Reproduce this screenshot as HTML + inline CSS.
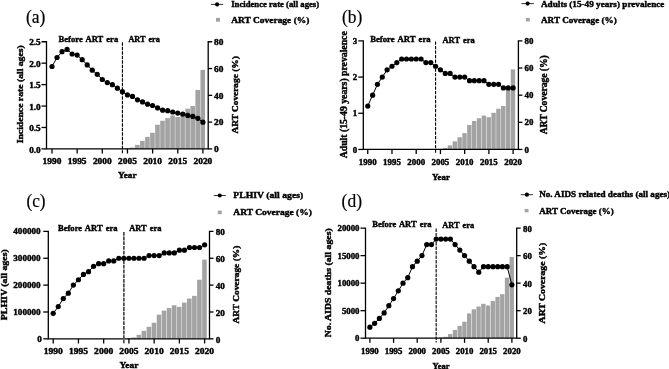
<!DOCTYPE html>
<html><head><meta charset="utf-8"><title>chart</title>
<style>
html,body{margin:0;padding:0;background:#fff;}
body{width:669px;height:369px;overflow:hidden;}
svg{display:block;filter:blur(0.45px);}
.t{font-family:"Liberation Serif", serif;font-weight:bold;fill:#000;stroke:#000;stroke-width:0.4px;}
.pl{font-family:"Liberation Serif", serif;fill:#000;stroke:#000;stroke-width:0.2px;}
</style></head><body>
<svg width="669" height="369" viewBox="0 0 669 369">
<rect width="669" height="369" fill="#fff"/>
<g id="pa">
<rect x="125.00" y="148.36" width="4.6" height="0.54" fill="#a3a3a3"/>
<rect x="130.03" y="147.56" width="4.6" height="1.34" fill="#a3a3a3"/>
<rect x="135.06" y="144.88" width="4.6" height="4.02" fill="#a3a3a3"/>
<rect x="140.09" y="140.86" width="4.6" height="8.04" fill="#a3a3a3"/>
<rect x="145.12" y="136.85" width="4.6" height="12.05" fill="#a3a3a3"/>
<rect x="150.15" y="132.83" width="4.6" height="16.07" fill="#a3a3a3"/>
<rect x="155.18" y="124.79" width="4.6" height="24.11" fill="#a3a3a3"/>
<rect x="160.21" y="120.77" width="4.6" height="28.13" fill="#a3a3a3"/>
<rect x="165.24" y="118.09" width="4.6" height="30.81" fill="#a3a3a3"/>
<rect x="170.27" y="115.42" width="4.6" height="33.48" fill="#a3a3a3"/>
<rect x="175.30" y="117.02" width="4.6" height="31.88" fill="#a3a3a3"/>
<rect x="180.33" y="112.74" width="4.6" height="36.16" fill="#a3a3a3"/>
<rect x="185.36" y="108.72" width="4.6" height="40.18" fill="#a3a3a3"/>
<rect x="190.39" y="106.04" width="4.6" height="42.86" fill="#a3a3a3"/>
<rect x="195.42" y="89.97" width="4.6" height="58.93" fill="#a3a3a3"/>
<rect x="200.45" y="69.88" width="4.6" height="79.02" fill="#a3a3a3"/>
<path d="M41.5 41.75H46.5V148.9H208.2V41.75H212.2" fill="none" stroke="#000" stroke-width="1.3" stroke-linecap="butt" stroke-linejoin="miter"/>
<path d="M41.5 148.90H46.5" stroke="#000" stroke-width="1.3"/>
<text x="29.18" y="152.60" font-size="8.5" class="t" textLength="11.52" lengthAdjust="spacingAndGlyphs">0.0</text>
<path d="M41.5 127.47H46.5" stroke="#000" stroke-width="1.3"/>
<text x="29.18" y="131.17" font-size="8.5" class="t" textLength="11.52" lengthAdjust="spacingAndGlyphs">0.5</text>
<path d="M41.5 106.04H46.5" stroke="#000" stroke-width="1.3"/>
<text x="29.18" y="109.74" font-size="8.5" class="t" textLength="11.52" lengthAdjust="spacingAndGlyphs">1.0</text>
<path d="M41.5 84.61H46.5" stroke="#000" stroke-width="1.3"/>
<text x="29.18" y="88.31" font-size="8.5" class="t" textLength="11.52" lengthAdjust="spacingAndGlyphs">1.5</text>
<path d="M41.5 63.18H46.5" stroke="#000" stroke-width="1.3"/>
<text x="29.18" y="66.88" font-size="8.5" class="t" textLength="11.52" lengthAdjust="spacingAndGlyphs">2.0</text>
<text x="29.18" y="45.45" font-size="8.5" class="t" textLength="11.52" lengthAdjust="spacingAndGlyphs">2.5</text>
<path d="M208.2 148.90H212.2" stroke="#000" stroke-width="1.3"/>
<text x="214.00" y="152.20" font-size="8.5" class="t" textLength="4.70" lengthAdjust="spacingAndGlyphs">0</text>
<path d="M208.2 122.11H212.2" stroke="#000" stroke-width="1.3"/>
<text x="214.00" y="125.41" font-size="8.5" class="t" textLength="9.40" lengthAdjust="spacingAndGlyphs">20</text>
<path d="M208.2 95.33H212.2" stroke="#000" stroke-width="1.3"/>
<text x="214.00" y="98.62" font-size="8.5" class="t" textLength="9.40" lengthAdjust="spacingAndGlyphs">40</text>
<path d="M208.2 68.54H212.2" stroke="#000" stroke-width="1.3"/>
<text x="214.00" y="71.84" font-size="8.5" class="t" textLength="9.40" lengthAdjust="spacingAndGlyphs">60</text>
<text x="214.00" y="45.05" font-size="8.5" class="t" textLength="9.40" lengthAdjust="spacingAndGlyphs">80</text>
<path d="M52.00 148.9V153.5" stroke="#000" stroke-width="1.3"/>
<text x="42.60" y="164.15" font-size="8.5" class="t" textLength="18.80" lengthAdjust="spacingAndGlyphs">1990</text>
<path d="M77.15 148.9V153.5" stroke="#000" stroke-width="1.3"/>
<text x="67.75" y="164.15" font-size="8.5" class="t" textLength="18.80" lengthAdjust="spacingAndGlyphs">1995</text>
<path d="M102.30 148.9V153.5" stroke="#000" stroke-width="1.3"/>
<text x="92.90" y="164.15" font-size="8.5" class="t" textLength="18.80" lengthAdjust="spacingAndGlyphs">2000</text>
<path d="M127.45 148.9V153.5" stroke="#000" stroke-width="1.3"/>
<text x="118.05" y="164.15" font-size="8.5" class="t" textLength="18.80" lengthAdjust="spacingAndGlyphs">2005</text>
<path d="M152.60 148.9V153.5" stroke="#000" stroke-width="1.3"/>
<text x="143.20" y="164.15" font-size="8.5" class="t" textLength="18.80" lengthAdjust="spacingAndGlyphs">2010</text>
<path d="M177.75 148.9V153.5" stroke="#000" stroke-width="1.3"/>
<text x="168.35" y="164.15" font-size="8.5" class="t" textLength="18.80" lengthAdjust="spacingAndGlyphs">2015</text>
<path d="M202.90 148.9V153.5" stroke="#000" stroke-width="1.3"/>
<text x="193.50" y="164.15" font-size="8.5" class="t" textLength="18.80" lengthAdjust="spacingAndGlyphs">2020</text>
<path d="M122.42 42.25V153.3" stroke="#000" stroke-width="1.1" stroke-dasharray="3.4 1.1"/>
<polyline fill="none" stroke="#000" stroke-width="1.0" points="52.00,66.50 57.03,57.50 62.06,51.70 67.09,49.40 72.12,54.00 77.15,55.10 82.18,59.70 87.21,64.90 92.24,70.20 97.27,74.30 102.30,79.50 107.33,82.60 112.36,84.70 117.39,88.20 122.42,91.70 127.45,94.90 132.48,96.40 137.51,99.80 142.54,101.90 147.57,104.20 152.60,105.50 157.63,107.90 162.66,110.20 167.69,110.70 172.72,112.00 177.75,113.10 182.78,114.10 187.81,115.40 192.84,116.40 197.87,118.30 202.90,122.20"/>
<circle cx="52.00" cy="66.50" r="2.6" fill="#000"/>
<circle cx="57.03" cy="57.50" r="2.6" fill="#000"/>
<circle cx="62.06" cy="51.70" r="2.6" fill="#000"/>
<circle cx="67.09" cy="49.40" r="2.6" fill="#000"/>
<circle cx="72.12" cy="54.00" r="2.6" fill="#000"/>
<circle cx="77.15" cy="55.10" r="2.6" fill="#000"/>
<circle cx="82.18" cy="59.70" r="2.6" fill="#000"/>
<circle cx="87.21" cy="64.90" r="2.6" fill="#000"/>
<circle cx="92.24" cy="70.20" r="2.6" fill="#000"/>
<circle cx="97.27" cy="74.30" r="2.6" fill="#000"/>
<circle cx="102.30" cy="79.50" r="2.6" fill="#000"/>
<circle cx="107.33" cy="82.60" r="2.6" fill="#000"/>
<circle cx="112.36" cy="84.70" r="2.6" fill="#000"/>
<circle cx="117.39" cy="88.20" r="2.6" fill="#000"/>
<circle cx="122.42" cy="91.70" r="2.6" fill="#000"/>
<circle cx="127.45" cy="94.90" r="2.6" fill="#000"/>
<circle cx="132.48" cy="96.40" r="2.6" fill="#000"/>
<circle cx="137.51" cy="99.80" r="2.6" fill="#000"/>
<circle cx="142.54" cy="101.90" r="2.6" fill="#000"/>
<circle cx="147.57" cy="104.20" r="2.6" fill="#000"/>
<circle cx="152.60" cy="105.50" r="2.6" fill="#000"/>
<circle cx="157.63" cy="107.90" r="2.6" fill="#000"/>
<circle cx="162.66" cy="110.20" r="2.6" fill="#000"/>
<circle cx="167.69" cy="110.70" r="2.6" fill="#000"/>
<circle cx="172.72" cy="112.00" r="2.6" fill="#000"/>
<circle cx="177.75" cy="113.10" r="2.6" fill="#000"/>
<circle cx="182.78" cy="114.10" r="2.6" fill="#000"/>
<circle cx="187.81" cy="115.40" r="2.6" fill="#000"/>
<circle cx="192.84" cy="116.40" r="2.6" fill="#000"/>
<circle cx="197.87" cy="118.30" r="2.6" fill="#000"/>
<circle cx="202.90" cy="122.20" r="2.6" fill="#000"/>
<text x="58.60" y="42.30" font-size="8.9" class="t" textLength="59.60" lengthAdjust="spacingAndGlyphs" word-spacing="1.1">Before ART era</text>
<text x="128.40" y="42.30" font-size="8.9" class="t" textLength="31.40" lengthAdjust="spacingAndGlyphs" word-spacing="1.1">ART era</text>
<text x="118.10" y="178.25" font-size="9.0" class="t" textLength="18.50" lengthAdjust="spacingAndGlyphs">Year</text>
<text transform="translate(22.80 143.30) rotate(-90)" font-size="9.2" class="t" textLength="98.00" lengthAdjust="spacingAndGlyphs">Incidence rate (all ages)</text>
<text transform="translate(238.10 133.55) rotate(-90)" font-size="9.1" class="t" textLength="77.30" lengthAdjust="spacingAndGlyphs">ART Coverage (%)</text>
<text x="26.0" y="22.8" font-size="19" class="pl" textLength="19.4" lengthAdjust="spacingAndGlyphs">(a)</text>
<path d="M211 4.4H223.2" stroke="#000" stroke-width="0.8"/>
<circle cx="217.10" cy="4.4" r="2.1" fill="#000"/>
<text x="231.20" y="6.90" font-size="8.9" class="t" textLength="87.90" lengthAdjust="spacingAndGlyphs">Incidence rate (all ages)</text>
<rect x="216" y="17.9" width="4" height="3.8" fill="#a3a3a3"/>
<text x="231.20" y="23.40" font-size="8.9" class="t" textLength="78.20" lengthAdjust="spacingAndGlyphs">ART Coverage (%)</text>
</g>
<g id="pb">
<rect x="438.08" y="148.91" width="4.4" height="0.54" fill="#a3a3a3"/>
<rect x="442.92" y="148.09" width="4.4" height="1.36" fill="#a3a3a3"/>
<rect x="447.77" y="145.38" width="4.4" height="4.07" fill="#a3a3a3"/>
<rect x="452.61" y="141.31" width="4.4" height="8.14" fill="#a3a3a3"/>
<rect x="457.46" y="137.24" width="4.4" height="12.21" fill="#a3a3a3"/>
<rect x="462.30" y="133.17" width="4.4" height="16.28" fill="#a3a3a3"/>
<rect x="467.15" y="125.03" width="4.4" height="24.42" fill="#a3a3a3"/>
<rect x="471.99" y="120.96" width="4.4" height="28.49" fill="#a3a3a3"/>
<rect x="476.84" y="118.24" width="4.4" height="31.21" fill="#a3a3a3"/>
<rect x="481.68" y="115.53" width="4.4" height="33.92" fill="#a3a3a3"/>
<rect x="486.53" y="117.16" width="4.4" height="32.29" fill="#a3a3a3"/>
<rect x="491.37" y="112.81" width="4.4" height="36.64" fill="#a3a3a3"/>
<rect x="496.22" y="108.74" width="4.4" height="40.71" fill="#a3a3a3"/>
<rect x="501.06" y="106.03" width="4.4" height="43.42" fill="#a3a3a3"/>
<rect x="505.91" y="89.75" width="4.4" height="59.70" fill="#a3a3a3"/>
<rect x="510.75" y="69.39" width="4.4" height="80.06" fill="#a3a3a3"/>
<path d="M358.3 40.9H363.3V149.45H518.4V40.9H522.4" fill="none" stroke="#000" stroke-width="1.3" stroke-linecap="butt" stroke-linejoin="miter"/>
<path d="M358.3 149.45H363.3" stroke="#000" stroke-width="1.3"/>
<text x="352.65" y="152.55" font-size="8.5" class="t" textLength="4.45" lengthAdjust="spacingAndGlyphs">0</text>
<path d="M358.3 113.27H363.3" stroke="#000" stroke-width="1.3"/>
<text x="352.65" y="116.37" font-size="8.5" class="t" textLength="4.45" lengthAdjust="spacingAndGlyphs">1</text>
<path d="M358.3 77.08H363.3" stroke="#000" stroke-width="1.3"/>
<text x="352.65" y="80.18" font-size="8.5" class="t" textLength="4.45" lengthAdjust="spacingAndGlyphs">2</text>
<text x="352.65" y="44.00" font-size="8.5" class="t" textLength="4.45" lengthAdjust="spacingAndGlyphs">3</text>
<path d="M518.4 149.45H522.4" stroke="#000" stroke-width="1.3"/>
<text x="524.50" y="152.55" font-size="8.5" class="t" textLength="4.45" lengthAdjust="spacingAndGlyphs">0</text>
<path d="M518.4 122.31H522.4" stroke="#000" stroke-width="1.3"/>
<text x="524.50" y="125.41" font-size="8.5" class="t" textLength="8.90" lengthAdjust="spacingAndGlyphs">20</text>
<path d="M518.4 95.17H522.4" stroke="#000" stroke-width="1.3"/>
<text x="524.50" y="98.27" font-size="8.5" class="t" textLength="8.90" lengthAdjust="spacingAndGlyphs">40</text>
<path d="M518.4 68.04H522.4" stroke="#000" stroke-width="1.3"/>
<text x="524.50" y="71.14" font-size="8.5" class="t" textLength="8.90" lengthAdjust="spacingAndGlyphs">60</text>
<text x="524.50" y="44.00" font-size="8.5" class="t" textLength="8.90" lengthAdjust="spacingAndGlyphs">80</text>
<path d="M367.75 149.45V154.04999999999998" stroke="#000" stroke-width="1.3"/>
<text x="358.85" y="164.80" font-size="8.5" class="t" textLength="17.80" lengthAdjust="spacingAndGlyphs">1990</text>
<path d="M391.98 149.45V154.04999999999998" stroke="#000" stroke-width="1.3"/>
<text x="383.08" y="164.80" font-size="8.5" class="t" textLength="17.80" lengthAdjust="spacingAndGlyphs">1995</text>
<path d="M416.20 149.45V154.04999999999998" stroke="#000" stroke-width="1.3"/>
<text x="407.30" y="164.80" font-size="8.5" class="t" textLength="17.80" lengthAdjust="spacingAndGlyphs">2000</text>
<path d="M440.43 149.45V154.04999999999998" stroke="#000" stroke-width="1.3"/>
<text x="431.53" y="164.80" font-size="8.5" class="t" textLength="17.80" lengthAdjust="spacingAndGlyphs">2005</text>
<path d="M464.65 149.45V154.04999999999998" stroke="#000" stroke-width="1.3"/>
<text x="455.75" y="164.80" font-size="8.5" class="t" textLength="17.80" lengthAdjust="spacingAndGlyphs">2010</text>
<path d="M488.88 149.45V154.04999999999998" stroke="#000" stroke-width="1.3"/>
<text x="479.98" y="164.80" font-size="8.5" class="t" textLength="17.80" lengthAdjust="spacingAndGlyphs">2015</text>
<path d="M513.10 149.45V154.04999999999998" stroke="#000" stroke-width="1.3"/>
<text x="504.20" y="164.80" font-size="8.5" class="t" textLength="17.80" lengthAdjust="spacingAndGlyphs">2020</text>
<path d="M435.58 41.4V153.85" stroke="#000" stroke-width="1.1" stroke-dasharray="3.4 1.1"/>
<polyline fill="none" stroke="#000" stroke-width="1.0" points="367.75,106.03 372.60,95.17 377.44,84.32 382.29,77.08 387.13,69.85 391.98,66.23 396.82,62.61 401.67,58.99 406.51,58.99 411.36,58.99 416.20,58.99 421.05,58.99 425.89,62.61 430.74,62.61 435.58,66.23 440.43,69.85 445.27,73.46 450.12,73.46 454.96,77.08 459.81,77.08 464.65,77.08 469.50,80.70 474.34,80.70 479.19,80.70 484.03,80.70 488.88,84.32 493.72,84.32 498.56,84.32 503.41,87.94 508.25,87.94 513.10,87.94"/>
<circle cx="367.75" cy="106.03" r="2.6" fill="#000"/>
<circle cx="372.60" cy="95.17" r="2.6" fill="#000"/>
<circle cx="377.44" cy="84.32" r="2.6" fill="#000"/>
<circle cx="382.29" cy="77.08" r="2.6" fill="#000"/>
<circle cx="387.13" cy="69.85" r="2.6" fill="#000"/>
<circle cx="391.98" cy="66.23" r="2.6" fill="#000"/>
<circle cx="396.82" cy="62.61" r="2.6" fill="#000"/>
<circle cx="401.67" cy="58.99" r="2.6" fill="#000"/>
<circle cx="406.51" cy="58.99" r="2.6" fill="#000"/>
<circle cx="411.36" cy="58.99" r="2.6" fill="#000"/>
<circle cx="416.20" cy="58.99" r="2.6" fill="#000"/>
<circle cx="421.05" cy="58.99" r="2.6" fill="#000"/>
<circle cx="425.89" cy="62.61" r="2.6" fill="#000"/>
<circle cx="430.74" cy="62.61" r="2.6" fill="#000"/>
<circle cx="435.58" cy="66.23" r="2.6" fill="#000"/>
<circle cx="440.43" cy="69.85" r="2.6" fill="#000"/>
<circle cx="445.27" cy="73.46" r="2.6" fill="#000"/>
<circle cx="450.12" cy="73.46" r="2.6" fill="#000"/>
<circle cx="454.96" cy="77.08" r="2.6" fill="#000"/>
<circle cx="459.81" cy="77.08" r="2.6" fill="#000"/>
<circle cx="464.65" cy="77.08" r="2.6" fill="#000"/>
<circle cx="469.50" cy="80.70" r="2.6" fill="#000"/>
<circle cx="474.34" cy="80.70" r="2.6" fill="#000"/>
<circle cx="479.19" cy="80.70" r="2.6" fill="#000"/>
<circle cx="484.03" cy="80.70" r="2.6" fill="#000"/>
<circle cx="488.88" cy="84.32" r="2.6" fill="#000"/>
<circle cx="493.72" cy="84.32" r="2.6" fill="#000"/>
<circle cx="498.56" cy="84.32" r="2.6" fill="#000"/>
<circle cx="503.41" cy="87.94" r="2.6" fill="#000"/>
<circle cx="508.25" cy="87.94" r="2.6" fill="#000"/>
<circle cx="513.10" cy="87.94" r="2.6" fill="#000"/>
<text x="370.20" y="42.30" font-size="8.9" class="t" textLength="60.40" lengthAdjust="spacingAndGlyphs" word-spacing="1.1">Before ART era</text>
<text x="442.50" y="42.60" font-size="8.9" class="t" textLength="32.30" lengthAdjust="spacingAndGlyphs" word-spacing="1.1">ART era</text>
<text x="432.10" y="179.50" font-size="9.0" class="t" textLength="17.90" lengthAdjust="spacingAndGlyphs">Year</text>
<text transform="translate(346.80 158.30) rotate(-90)" font-size="9.5" class="t" textLength="127.00" lengthAdjust="spacingAndGlyphs">Adult (15-49 years) prevalence</text>
<text transform="translate(547.10 134.30) rotate(-90)" font-size="9.5" class="t" textLength="79.00" lengthAdjust="spacingAndGlyphs">ART Coverage (%)</text>
<text x="341.9" y="22.8" font-size="18.9" class="pl" textLength="20.3" lengthAdjust="spacingAndGlyphs">(b)</text>
<path d="M521.4 3.6H533.9" stroke="#000" stroke-width="0.8"/>
<circle cx="527.65" cy="3.6" r="2.1" fill="#000"/>
<text x="541.00" y="6.60" font-size="8.9" class="t" textLength="123.40" lengthAdjust="spacingAndGlyphs">Adults (15-49 years) prevalence</text>
<rect x="526" y="17.9" width="3.8" height="3.5" fill="#a3a3a3"/>
<text x="541.00" y="23.00" font-size="8.9" class="t" textLength="75.80" lengthAdjust="spacingAndGlyphs">ART Coverage (%)</text>
</g>
<g id="pc">
<rect x="126.45" y="338.31" width="4.6" height="0.54" fill="#a3a3a3"/>
<rect x="131.50" y="337.51" width="4.6" height="1.34" fill="#a3a3a3"/>
<rect x="136.55" y="334.82" width="4.6" height="4.03" fill="#a3a3a3"/>
<rect x="141.60" y="330.79" width="4.6" height="8.06" fill="#a3a3a3"/>
<rect x="146.64" y="326.76" width="4.6" height="12.09" fill="#a3a3a3"/>
<rect x="151.69" y="322.73" width="4.6" height="16.12" fill="#a3a3a3"/>
<rect x="156.74" y="314.67" width="4.6" height="24.18" fill="#a3a3a3"/>
<rect x="161.78" y="310.64" width="4.6" height="28.21" fill="#a3a3a3"/>
<rect x="166.83" y="307.96" width="4.6" height="30.89" fill="#a3a3a3"/>
<rect x="171.88" y="305.27" width="4.6" height="33.58" fill="#a3a3a3"/>
<rect x="176.92" y="306.88" width="4.6" height="31.97" fill="#a3a3a3"/>
<rect x="181.97" y="302.59" width="4.6" height="36.26" fill="#a3a3a3"/>
<rect x="187.02" y="298.56" width="4.6" height="40.29" fill="#a3a3a3"/>
<rect x="192.07" y="295.87" width="4.6" height="42.98" fill="#a3a3a3"/>
<rect x="197.11" y="279.75" width="4.6" height="59.10" fill="#a3a3a3"/>
<rect x="202.16" y="259.61" width="4.6" height="79.24" fill="#a3a3a3"/>
<path d="M43.3 231.4H48.3V338.85H209.5V231.4H213.5" fill="none" stroke="#000" stroke-width="1.3" stroke-linecap="butt" stroke-linejoin="miter"/>
<path d="M43.3 338.85H48.3" stroke="#000" stroke-width="1.3"/>
<text x="37.23" y="341.80" font-size="8.5" class="t" textLength="4.57" lengthAdjust="spacingAndGlyphs">0</text>
<path d="M43.3 311.99H48.3" stroke="#000" stroke-width="1.3"/>
<text x="13.28" y="314.94" font-size="8.5" class="t" textLength="27.42" lengthAdjust="spacingAndGlyphs">100000</text>
<path d="M43.3 285.12H48.3" stroke="#000" stroke-width="1.3"/>
<text x="13.28" y="288.07" font-size="8.5" class="t" textLength="27.42" lengthAdjust="spacingAndGlyphs">200000</text>
<path d="M43.3 258.26H48.3" stroke="#000" stroke-width="1.3"/>
<text x="13.28" y="261.21" font-size="8.5" class="t" textLength="27.42" lengthAdjust="spacingAndGlyphs">300000</text>
<text x="13.28" y="234.35" font-size="8.5" class="t" textLength="27.42" lengthAdjust="spacingAndGlyphs">400000</text>
<path d="M209.5 338.85H213.5" stroke="#000" stroke-width="1.3"/>
<text x="215.80" y="342.55" font-size="8.5" class="t" textLength="4.57" lengthAdjust="spacingAndGlyphs">0</text>
<path d="M209.5 311.99H213.5" stroke="#000" stroke-width="1.3"/>
<text x="215.80" y="315.69" font-size="8.5" class="t" textLength="9.14" lengthAdjust="spacingAndGlyphs">20</text>
<path d="M209.5 285.12H213.5" stroke="#000" stroke-width="1.3"/>
<text x="215.80" y="288.82" font-size="8.5" class="t" textLength="9.14" lengthAdjust="spacingAndGlyphs">40</text>
<path d="M209.5 258.26H213.5" stroke="#000" stroke-width="1.3"/>
<text x="215.80" y="261.96" font-size="8.5" class="t" textLength="9.14" lengthAdjust="spacingAndGlyphs">60</text>
<text x="215.80" y="235.10" font-size="8.5" class="t" textLength="9.14" lengthAdjust="spacingAndGlyphs">80</text>
<path d="M53.20 338.85V343.45000000000005" stroke="#000" stroke-width="1.3"/>
<text x="43.66" y="354.05" font-size="8.5" class="t" textLength="19.08" lengthAdjust="spacingAndGlyphs">1990</text>
<path d="M78.44 338.85V343.45000000000005" stroke="#000" stroke-width="1.3"/>
<text x="68.90" y="354.05" font-size="8.5" class="t" textLength="19.08" lengthAdjust="spacingAndGlyphs">1995</text>
<path d="M103.67 338.85V343.45000000000005" stroke="#000" stroke-width="1.3"/>
<text x="94.13" y="354.05" font-size="8.5" class="t" textLength="19.08" lengthAdjust="spacingAndGlyphs">2000</text>
<path d="M128.91 338.85V343.45000000000005" stroke="#000" stroke-width="1.3"/>
<text x="119.37" y="354.05" font-size="8.5" class="t" textLength="19.08" lengthAdjust="spacingAndGlyphs">2005</text>
<path d="M154.14 338.85V343.45000000000005" stroke="#000" stroke-width="1.3"/>
<text x="144.60" y="354.05" font-size="8.5" class="t" textLength="19.08" lengthAdjust="spacingAndGlyphs">2010</text>
<path d="M179.38 338.85V343.45000000000005" stroke="#000" stroke-width="1.3"/>
<text x="169.84" y="354.05" font-size="8.5" class="t" textLength="19.08" lengthAdjust="spacingAndGlyphs">2015</text>
<path d="M204.61 338.85V343.45000000000005" stroke="#000" stroke-width="1.3"/>
<text x="195.07" y="354.05" font-size="8.5" class="t" textLength="19.08" lengthAdjust="spacingAndGlyphs">2020</text>
<path d="M123.86 231.9V343.25" stroke="#4a4a4a" stroke-width="1.7" stroke-dasharray="3.8 0.9"/>
<polyline fill="none" stroke="#000" stroke-width="1.0" points="53.20,313.33 58.25,306.62 63.29,298.56 68.34,293.18 73.39,285.12 78.44,279.75 83.48,274.38 88.53,271.69 93.58,266.32 98.62,263.63 103.67,263.63 108.72,260.95 113.76,260.95 118.81,258.26 123.86,258.26 128.91,258.26 133.95,258.26 139.00,258.26 144.05,258.26 149.09,255.58 154.14,255.58 159.19,255.58 164.23,252.89 169.28,252.89 174.33,252.89 179.38,250.20 184.42,250.20 189.47,247.52 194.52,247.52 199.56,247.52 204.61,244.83"/>
<circle cx="53.20" cy="313.33" r="2.6" fill="#000"/>
<circle cx="58.25" cy="306.62" r="2.6" fill="#000"/>
<circle cx="63.29" cy="298.56" r="2.6" fill="#000"/>
<circle cx="68.34" cy="293.18" r="2.6" fill="#000"/>
<circle cx="73.39" cy="285.12" r="2.6" fill="#000"/>
<circle cx="78.44" cy="279.75" r="2.6" fill="#000"/>
<circle cx="83.48" cy="274.38" r="2.6" fill="#000"/>
<circle cx="88.53" cy="271.69" r="2.6" fill="#000"/>
<circle cx="93.58" cy="266.32" r="2.6" fill="#000"/>
<circle cx="98.62" cy="263.63" r="2.6" fill="#000"/>
<circle cx="103.67" cy="263.63" r="2.6" fill="#000"/>
<circle cx="108.72" cy="260.95" r="2.6" fill="#000"/>
<circle cx="113.76" cy="260.95" r="2.6" fill="#000"/>
<circle cx="118.81" cy="258.26" r="2.6" fill="#000"/>
<circle cx="123.86" cy="258.26" r="2.6" fill="#000"/>
<circle cx="128.91" cy="258.26" r="2.6" fill="#000"/>
<circle cx="133.95" cy="258.26" r="2.6" fill="#000"/>
<circle cx="139.00" cy="258.26" r="2.6" fill="#000"/>
<circle cx="144.05" cy="258.26" r="2.6" fill="#000"/>
<circle cx="149.09" cy="255.58" r="2.6" fill="#000"/>
<circle cx="154.14" cy="255.58" r="2.6" fill="#000"/>
<circle cx="159.19" cy="255.58" r="2.6" fill="#000"/>
<circle cx="164.23" cy="252.89" r="2.6" fill="#000"/>
<circle cx="169.28" cy="252.89" r="2.6" fill="#000"/>
<circle cx="174.33" cy="252.89" r="2.6" fill="#000"/>
<circle cx="179.38" cy="250.20" r="2.6" fill="#000"/>
<circle cx="184.42" cy="250.20" r="2.6" fill="#000"/>
<circle cx="189.47" cy="247.52" r="2.6" fill="#000"/>
<circle cx="194.52" cy="247.52" r="2.6" fill="#000"/>
<circle cx="199.56" cy="247.52" r="2.6" fill="#000"/>
<circle cx="204.61" cy="244.83" r="2.6" fill="#000"/>
<text x="58.00" y="230.80" font-size="8.6" class="t" textLength="59.60" lengthAdjust="spacingAndGlyphs" word-spacing="1.1">Before ART era</text>
<text x="129.20" y="230.80" font-size="8.6" class="t" textLength="32.20" lengthAdjust="spacingAndGlyphs" word-spacing="1.1">ART era</text>
<text x="119.60" y="368.10" font-size="9.0" class="t" textLength="18.90" lengthAdjust="spacingAndGlyphs">Year</text>
<text transform="translate(6.80 320.20) rotate(-90)" font-size="8.8" class="t" textLength="71.00" lengthAdjust="spacingAndGlyphs">PLHIV (all ages)</text>
<text transform="translate(239.00 323.50) rotate(-90)" font-size="9.0" class="t" textLength="77.80" lengthAdjust="spacingAndGlyphs">ART Coverage (%)</text>
<text x="26.5" y="207.4" font-size="19" class="pl" textLength="19.1" lengthAdjust="spacingAndGlyphs">(c)</text>
<path d="M213.7 195.5H225.8" stroke="#000" stroke-width="0.8"/>
<circle cx="219.75" cy="195.5" r="2.1" fill="#000"/>
<text x="233.30" y="198.40" font-size="8.9" class="t" textLength="69.90" lengthAdjust="spacingAndGlyphs">PLHIV (all ages)</text>
<rect x="217.8" y="210.6" width="4" height="3.6" fill="#a3a3a3"/>
<text x="233.30" y="215.40" font-size="8.9" class="t" textLength="78.60" lengthAdjust="spacingAndGlyphs">ART Coverage (%)</text>
</g>
<g id="pd">
<rect x="438.60" y="337.65" width="4.3" height="0.55" fill="#a3a3a3"/>
<rect x="443.33" y="336.82" width="4.3" height="1.38" fill="#a3a3a3"/>
<rect x="448.06" y="334.07" width="4.3" height="4.13" fill="#a3a3a3"/>
<rect x="452.79" y="329.94" width="4.3" height="8.26" fill="#a3a3a3"/>
<rect x="457.53" y="325.81" width="4.3" height="12.39" fill="#a3a3a3"/>
<rect x="462.26" y="321.69" width="4.3" height="16.51" fill="#a3a3a3"/>
<rect x="466.99" y="313.43" width="4.3" height="24.77" fill="#a3a3a3"/>
<rect x="471.73" y="309.30" width="4.3" height="28.90" fill="#a3a3a3"/>
<rect x="476.46" y="306.55" width="4.3" height="31.65" fill="#a3a3a3"/>
<rect x="481.19" y="303.79" width="4.3" height="34.41" fill="#a3a3a3"/>
<rect x="485.93" y="305.45" width="4.3" height="32.75" fill="#a3a3a3"/>
<rect x="490.66" y="301.04" width="4.3" height="37.16" fill="#a3a3a3"/>
<rect x="495.39" y="296.91" width="4.3" height="41.29" fill="#a3a3a3"/>
<rect x="500.12" y="294.16" width="4.3" height="44.04" fill="#a3a3a3"/>
<rect x="504.86" y="277.64" width="4.3" height="60.56" fill="#a3a3a3"/>
<rect x="509.59" y="257.00" width="4.3" height="81.20" fill="#a3a3a3"/>
<path d="M360.5 228.1H365.5V338.2H516.7V228.1H520.7" fill="none" stroke="#000" stroke-width="1.3" stroke-linecap="butt" stroke-linejoin="miter"/>
<path d="M360.5 338.20H365.5" stroke="#000" stroke-width="1.3"/>
<text x="355.10" y="341.30" font-size="8.5" class="t" textLength="4.40" lengthAdjust="spacingAndGlyphs">0</text>
<path d="M360.5 310.68H365.5" stroke="#000" stroke-width="1.3"/>
<text x="341.90" y="313.78" font-size="8.5" class="t" textLength="17.60" lengthAdjust="spacingAndGlyphs">5000</text>
<path d="M360.5 283.15H365.5" stroke="#000" stroke-width="1.3"/>
<text x="337.50" y="286.25" font-size="8.5" class="t" textLength="22.00" lengthAdjust="spacingAndGlyphs">10000</text>
<path d="M360.5 255.62H365.5" stroke="#000" stroke-width="1.3"/>
<text x="337.50" y="258.73" font-size="8.5" class="t" textLength="22.00" lengthAdjust="spacingAndGlyphs">15000</text>
<text x="337.50" y="231.20" font-size="8.5" class="t" textLength="22.00" lengthAdjust="spacingAndGlyphs">20000</text>
<path d="M516.7 338.20H520.7" stroke="#000" stroke-width="1.3"/>
<text x="523.10" y="341.70" font-size="8.5" class="t" textLength="4.40" lengthAdjust="spacingAndGlyphs">0</text>
<path d="M516.7 310.68H520.7" stroke="#000" stroke-width="1.3"/>
<text x="523.10" y="314.18" font-size="8.5" class="t" textLength="8.80" lengthAdjust="spacingAndGlyphs">20</text>
<path d="M516.7 283.15H520.7" stroke="#000" stroke-width="1.3"/>
<text x="523.10" y="286.65" font-size="8.5" class="t" textLength="8.80" lengthAdjust="spacingAndGlyphs">40</text>
<path d="M516.7 255.62H520.7" stroke="#000" stroke-width="1.3"/>
<text x="523.10" y="259.12" font-size="8.5" class="t" textLength="8.80" lengthAdjust="spacingAndGlyphs">60</text>
<text x="523.10" y="231.60" font-size="8.5" class="t" textLength="8.80" lengthAdjust="spacingAndGlyphs">80</text>
<path d="M369.90 338.2V342.8" stroke="#000" stroke-width="1.3"/>
<text x="361.10" y="353.95" font-size="8.5" class="t" textLength="17.60" lengthAdjust="spacingAndGlyphs">1990</text>
<path d="M393.56 338.2V342.8" stroke="#000" stroke-width="1.3"/>
<text x="384.76" y="353.95" font-size="8.5" class="t" textLength="17.60" lengthAdjust="spacingAndGlyphs">1995</text>
<path d="M417.23 338.2V342.8" stroke="#000" stroke-width="1.3"/>
<text x="408.43" y="353.95" font-size="8.5" class="t" textLength="17.60" lengthAdjust="spacingAndGlyphs">2000</text>
<path d="M440.89 338.2V342.8" stroke="#000" stroke-width="1.3"/>
<text x="432.09" y="353.95" font-size="8.5" class="t" textLength="17.60" lengthAdjust="spacingAndGlyphs">2005</text>
<path d="M464.56 338.2V342.8" stroke="#000" stroke-width="1.3"/>
<text x="455.76" y="353.95" font-size="8.5" class="t" textLength="17.60" lengthAdjust="spacingAndGlyphs">2010</text>
<path d="M488.22 338.2V342.8" stroke="#000" stroke-width="1.3"/>
<text x="479.42" y="353.95" font-size="8.5" class="t" textLength="17.60" lengthAdjust="spacingAndGlyphs">2015</text>
<path d="M511.89 338.2V342.8" stroke="#000" stroke-width="1.3"/>
<text x="503.09" y="353.95" font-size="8.5" class="t" textLength="17.60" lengthAdjust="spacingAndGlyphs">2020</text>
<path d="M436.16 228.6V342.59999999999997" stroke="#000" stroke-width="1.1" stroke-dasharray="3.4 1.1"/>
<polyline fill="none" stroke="#000" stroke-width="1.0" points="369.90,327.19 374.63,323.34 379.37,318.38 384.10,312.88 388.83,305.72 393.56,298.56 398.30,290.86 403.03,283.15 407.76,277.64 412.50,266.63 417.23,261.13 421.96,255.62 426.70,244.62 431.43,244.62 436.16,239.11 440.89,239.11 445.63,239.11 450.36,239.11 455.09,244.62 459.83,250.12 464.56,255.62 469.29,261.13 474.03,266.63 478.76,272.14 483.49,266.63 488.22,266.63 492.96,266.63 497.69,266.63 502.42,266.63 507.16,266.63 511.89,284.80"/>
<circle cx="369.90" cy="327.19" r="2.6" fill="#000"/>
<circle cx="374.63" cy="323.34" r="2.6" fill="#000"/>
<circle cx="379.37" cy="318.38" r="2.6" fill="#000"/>
<circle cx="384.10" cy="312.88" r="2.6" fill="#000"/>
<circle cx="388.83" cy="305.72" r="2.6" fill="#000"/>
<circle cx="393.56" cy="298.56" r="2.6" fill="#000"/>
<circle cx="398.30" cy="290.86" r="2.6" fill="#000"/>
<circle cx="403.03" cy="283.15" r="2.6" fill="#000"/>
<circle cx="407.76" cy="277.64" r="2.6" fill="#000"/>
<circle cx="412.50" cy="266.63" r="2.6" fill="#000"/>
<circle cx="417.23" cy="261.13" r="2.6" fill="#000"/>
<circle cx="421.96" cy="255.62" r="2.6" fill="#000"/>
<circle cx="426.70" cy="244.62" r="2.6" fill="#000"/>
<circle cx="431.43" cy="244.62" r="2.6" fill="#000"/>
<circle cx="436.16" cy="239.11" r="2.6" fill="#000"/>
<circle cx="440.89" cy="239.11" r="2.6" fill="#000"/>
<circle cx="445.63" cy="239.11" r="2.6" fill="#000"/>
<circle cx="450.36" cy="239.11" r="2.6" fill="#000"/>
<circle cx="455.09" cy="244.62" r="2.6" fill="#000"/>
<circle cx="459.83" cy="250.12" r="2.6" fill="#000"/>
<circle cx="464.56" cy="255.62" r="2.6" fill="#000"/>
<circle cx="469.29" cy="261.13" r="2.6" fill="#000"/>
<circle cx="474.03" cy="266.63" r="2.6" fill="#000"/>
<circle cx="478.76" cy="272.14" r="2.6" fill="#000"/>
<circle cx="483.49" cy="266.63" r="2.6" fill="#000"/>
<circle cx="488.22" cy="266.63" r="2.6" fill="#000"/>
<circle cx="492.96" cy="266.63" r="2.6" fill="#000"/>
<circle cx="497.69" cy="266.63" r="2.6" fill="#000"/>
<circle cx="502.42" cy="266.63" r="2.6" fill="#000"/>
<circle cx="507.16" cy="266.63" r="2.6" fill="#000"/>
<circle cx="511.89" cy="284.80" r="2.6" fill="#000"/>
<text x="372.30" y="227.30" font-size="8.7" class="t" textLength="59.20" lengthAdjust="spacingAndGlyphs" word-spacing="1.1">Before ART era</text>
<text x="442.20" y="228.20" font-size="8.7" class="t" textLength="32.00" lengthAdjust="spacingAndGlyphs" word-spacing="1.1">ART era</text>
<text x="432.50" y="368.70" font-size="9.0" class="t" textLength="16.90" lengthAdjust="spacingAndGlyphs">Year</text>
<text transform="translate(331.45 337.30) rotate(-90)" font-size="8.6" class="t" textLength="109.00" lengthAdjust="spacingAndGlyphs">No. AIDS deaths (all ages)</text>
<text transform="translate(545.00 323.40) rotate(-90)" font-size="8.7" class="t" textLength="80.60" lengthAdjust="spacingAndGlyphs">ART Coverage (%)</text>
<text x="341.6" y="207.3" font-size="19.0" class="pl" textLength="20.4" lengthAdjust="spacingAndGlyphs">(d)</text>
<path d="M520.8 194.7H533" stroke="#000" stroke-width="0.8"/>
<circle cx="526.90" cy="194.7" r="2.1" fill="#000"/>
<text x="539.20" y="197.30" font-size="8.9" class="t" textLength="130.90" lengthAdjust="spacingAndGlyphs">No. AIDS related deaths (all ages)</text>
<rect x="524.7" y="208.9" width="3.8" height="3.4" fill="#a3a3a3"/>
<text x="539.20" y="214.00" font-size="8.9" class="t" textLength="74.60" lengthAdjust="spacingAndGlyphs">ART Coverage (%)</text>
</g>
</svg>
</body></html>
